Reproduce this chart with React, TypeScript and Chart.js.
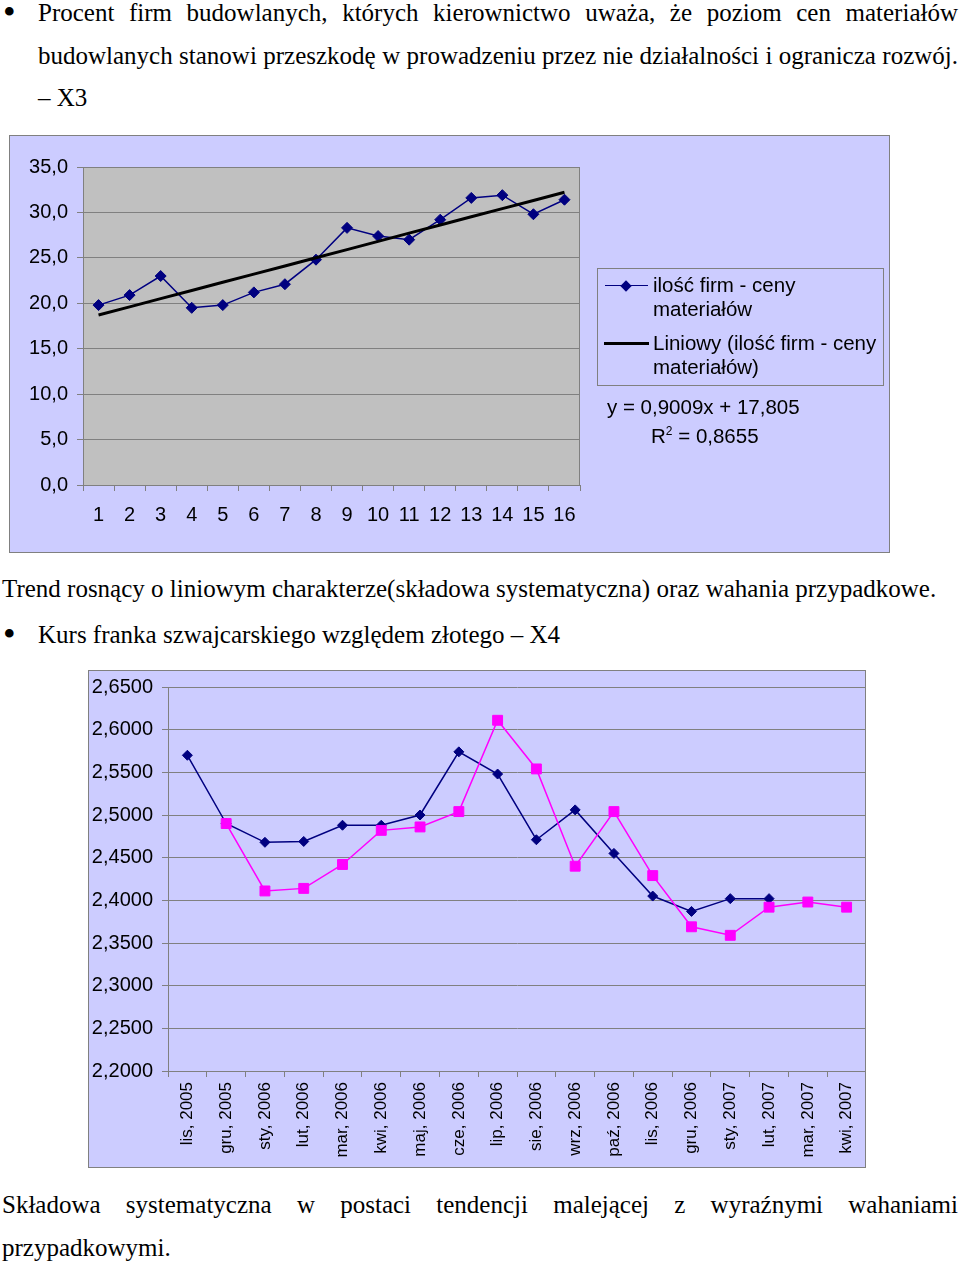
import React, { useEffect, useRef } from 'react';
import { Chart, registerables } from 'chart.js';

Chart.register(...registerables);
document.body.style.margin = '0';

// ---------- Data: chart 1 (X3) ----------
const periodLabels = ['1', '2', '3', '4', '5', '6', '7', '8', '9', '10', '11', '12', '13', '14', '15', '16'];
const firmsShare = [19.8, 20.9, 23.0, 19.5, 19.8, 21.2, 22.1, 24.8, 28.3, 27.4, 27.0, 29.2, 31.6, 31.9, 29.8, 31.4];
const linearTrend = [18.71, 19.61, 20.51, 21.41, 22.31, 23.21, 24.11, 25.01, 25.91, 26.81, 27.72, 28.62, 29.52, 30.42, 31.32, 32.22];
const seriesName1 = 'ilość firm - ceny materiałów';
const trendName1 = 'Liniowy (ilość firm - ceny materiałów)';
const equationText = 'y = 0,9009x + 17,805';
const r2Value = '0,8655';

// ---------- Data: chart 2 (X4) ----------
const monthLabels = [
  'lis, 2005', 'gru, 2005', 'sty, 2006', 'lut, 2006', 'mar, 2006', 'kwi, 2006',
  'maj, 2006', 'cze, 2006', 'lip, 2006', 'sie, 2006', 'wrz, 2006', 'paź, 2006',
  'lis, 2006', 'gru, 2006', 'sty, 2007', 'lut, 2007', 'mar, 2007', 'kwi, 2007',
];
const chfRateA = [2.570, 2.490, 2.468, 2.469, 2.488, 2.488, 2.500, 2.574, 2.548, 2.471, 2.506, 2.455, 2.405, 2.387, 2.402, 2.402, null, null];
const chfRateB = [null, 2.490, 2.411, 2.414, 2.442, 2.482, 2.486, 2.504, 2.611, 2.554, 2.440, 2.504, 2.429, 2.369, 2.359, 2.392, 2.398, 2.392];

// ---------- Styles ----------
const SANS = "'Liberation Sans', Arial, sans-serif";
const SERIF = "'Liberation Serif', 'Times New Roman', serif";
const NAVY = '#000080';
const PINK = '#FF00FF';
const GRID = '#808080';
const LAVENDER = '#CCCCFF';

const plotFrame = {
  id: 'plotFrame',
  beforeDraw(chart: any, _args: any, opts: any) {
    const { ctx, chartArea: a } = chart;
    if (opts && opts.fill) {
      ctx.save();
      ctx.fillStyle = opts.fill;
      ctx.fillRect(a.left, a.top, a.right - a.left, a.bottom - a.top);
      ctx.restore();
    }
  },
  beforeDatasetsDraw(chart: any, _args: any, opts: any) {
    const { ctx, chartArea: a } = chart;
    if (opts && opts.stroke) {
      ctx.save();
      ctx.strokeStyle = opts.stroke;
      ctx.lineWidth = 1;
      ctx.strokeRect(Math.round(a.left) + 0.5, Math.round(a.top) + 0.5, Math.round(a.right - a.left) - 1, Math.round(a.bottom - a.top));
      ctx.restore();
    }
  },
};

function ChartCanvas({ left, top, width, height, make }: any) {
  const ref = useRef<HTMLCanvasElement>(null);
  useEffect(() => {
    const chart = new Chart(ref.current as HTMLCanvasElement, make());
    return () => chart.destroy();
  }, []);
  return (
    <canvas
      ref={ref}
      width={width}
      height={height}
      style={{ position: 'absolute', left, top, width, height }}
    />
  );
}

const fixX = (h: number) => (s: any) => { s.height = h; s.paddingLeft = 0; s.paddingRight = 0; };
const fixY = (w: number) => (s: any) => { s.width = w; s.paddingTop = 0; s.paddingBottom = 0; };

const makeChart1 = (): any => ({
  type: 'line',
  data: {
    labels: periodLabels,
    datasets: [
      {
        label: seriesName1,
        data: firmsShare,
        borderColor: NAVY,
        backgroundColor: NAVY,
        borderWidth: 1.5,
        pointStyle: 'rectRot',
        pointRadius: 5.5,
        pointHoverRadius: 5.5,
        pointBorderWidth: 1,
        order: 1,
      },
      {
        label: trendName1,
        data: linearTrend,
        borderColor: '#000000',
        borderWidth: 3,
        pointRadius: 0,
        pointHoverRadius: 0,
        order: 0,
      },
    ],
  },
  options: {
    responsive: false,
    animation: false,
    events: [],
    layout: { autoPadding: false, padding: { left: 0, top: 32, right: 310, bottom: 0 } },
    plugins: {
      legend: { display: false },
      tooltip: { enabled: false },
      plotFrame: { fill: '#C0C0C0', stroke: GRID },
    },
    scales: {
      x: {
        offset: true,
        grid: { offset: true, drawOnChartArea: false, tickLength: 6, color: GRID },
        border: { color: GRID, width: 1 },
        ticks: { font: { family: SANS, size: 20 }, color: '#000', padding: 12, maxRotation: 0, autoSkip: false },
        afterFit: fixX(68),
      },
      y: {
        min: 0,
        max: 35,
        grid: { color: GRID, tickLength: 6 },
        border: { color: GRID, width: 1 },
        ticks: {
          stepSize: 5,
          font: { family: SANS, size: 20 },
          color: '#000',
          padding: 9,
          callback: (v: any) => Number(v).toFixed(1).replace('.', ','),
        },
        afterFit: fixY(74),
      },
    },
  },
  plugins: [plotFrame],
});

const makeChart2 = (): any => ({
  type: 'line',
  data: {
    labels: monthLabels,
    datasets: [
      {
        label: 'A',
        data: chfRateA,
        borderColor: NAVY,
        backgroundColor: NAVY,
        borderWidth: 1.5,
        pointStyle: 'rectRot',
        pointRadius: 5,
        pointHoverRadius: 5,
        pointBorderWidth: 1,
        spanGaps: false,
        order: 1,
      },
      {
        label: 'B',
        data: chfRateB,
        borderColor: PINK,
        backgroundColor: PINK,
        borderWidth: 1.5,
        pointStyle: 'rect',
        pointRadius: 7,
        pointHoverRadius: 7,
        pointBorderWidth: 1,
        spanGaps: false,
        order: 0,
      },
    ],
  },
  options: {
    responsive: false,
    animation: false,
    events: [],
    layout: { autoPadding: false, padding: { left: 0, top: 17, right: 0, bottom: 0 } },
    plugins: { legend: { display: false }, tooltip: { enabled: false } },
    scales: {
      x: {
        offset: true,
        grid: { offset: true, drawOnChartArea: false, tickLength: 6, color: GRID },
        border: { color: GRID, width: 1 },
        ticks: { font: { family: SANS, size: 17 }, color: '#000', padding: 5, maxRotation: 90, minRotation: 90, autoSkip: false },
        afterFit: fixX(97),
      },
      y: {
        min: 2.2,
        max: 2.65,
        grid: { color: GRID, tickLength: 6 },
        border: { color: GRID, width: 1 },
        ticks: {
          stepSize: 0.05,
          font: { family: SANS, size: 20 },
          color: '#000',
          padding: 9,
          callback: (v: any) => Number(v).toFixed(4).replace('.', ','),
        },
        afterFit: fixY(80),
      },
    },
  },
});

const textBase: React.CSSProperties = {
  position: 'absolute',
  fontFamily: SERIF,
  fontSize: 25,
  lineHeight: '30px',
  height: 30,
  color: '#000',
  whiteSpace: 'nowrap',
};

function Line({ left, top, width, justify, children }: any) {
  const style: React.CSSProperties = { ...textBase, left, top };
  if (justify) {
    style.width = width;
    style.textAlign = 'justify';
    (style as any).textAlignLast = 'justify';
  }
  return <div style={style}>{children}</div>;
}

function Bullet({ top }: any) {
  return (
    <div style={{ ...textBase, left: 3, top, fontSize: 36 }}>•</div>
  );
}

const legendText: React.CSSProperties = {
  position: 'absolute',
  fontFamily: SANS,
  fontSize: 20.5,
  lineHeight: '24px',
  color: '#000',
  whiteSpace: 'nowrap',
};

export default function App() {
  return (
    <div style={{ position: 'relative', width: 960, height: 1265, overflow: 'hidden', background: '#fff' }}>
      <Bullet top={-3} />
      <Line left={38} top={-2} width={920} justify>
        Procent firm budowlanych, których kierownictwo uważa, że poziom cen materiałów
      </Line>
      <Line left={38} top={41} width={920} justify>
        budowlanych stanowi przeszkodę w prowadzeniu przez nie działalności i ogranicza rozwój.
      </Line>
      <Line left={38} top={83}>– X3</Line>

      {/* Chart 1 */}
      <div style={{ position: 'absolute', left: 9, top: 135, width: 881, height: 418, boxSizing: 'border-box', border: `1px solid ${GRID}`, background: LAVENDER }} />
      <ChartCanvas left={9} top={135} width={881} height={418} make={makeChart1} />
      <div style={{ position: 'absolute', left: 597, top: 268, width: 287, height: 118, boxSizing: 'border-box', border: `1px solid ${GRID}` }} />
      <div style={{ position: 'absolute', left: 605, top: 285, width: 43, height: 0, borderTop: `1.5px solid ${NAVY}` }} />
      <div style={{ position: 'absolute', left: 622, top: 282, width: 8, height: 8, background: NAVY, transform: 'rotate(45deg)' }} />
      <div style={{ ...legendText, left: 653, top: 273 }}>ilość firm - ceny<br />materiałów</div>
      <div style={{ position: 'absolute', left: 604, top: 342, width: 45, height: 3, background: '#000' }} />
      <div style={{ ...legendText, left: 653, top: 331 }}>Liniowy (ilość firm - ceny<br />materiałów)</div>
      <div style={{ ...legendText, left: 607, top: 395 }}>{equationText}</div>
      <div style={{ ...legendText, left: 651, top: 424 }}>
        R<sup style={{ fontSize: 12, lineHeight: 0 }}>2</sup> = {r2Value}
      </div>

      <Line left={2} top={574}>
        Trend rosnący o liniowym charakterze(składowa systematyczna) oraz wahania przypadkowe.
      </Line>
      <Bullet top={619} />
      <Line left={38} top={620}>Kurs franka szwajcarskiego względem złotego – X4</Line>

      {/* Chart 2 */}
      <div style={{ position: 'absolute', left: 88, top: 670, width: 778, height: 498, boxSizing: 'border-box', border: `1px solid ${GRID}`, background: LAVENDER }} />
      <ChartCanvas left={88} top={670} width={778} height={498} make={makeChart2} />

      <Line left={2} top={1190} width={956} justify>
        Składowa systematyczna w postaci tendencji malejącej z wyraźnymi wahaniami
      </Line>
      <Line left={2} top={1233}>przypadkowymi.</Line>
    </div>
  );
}
